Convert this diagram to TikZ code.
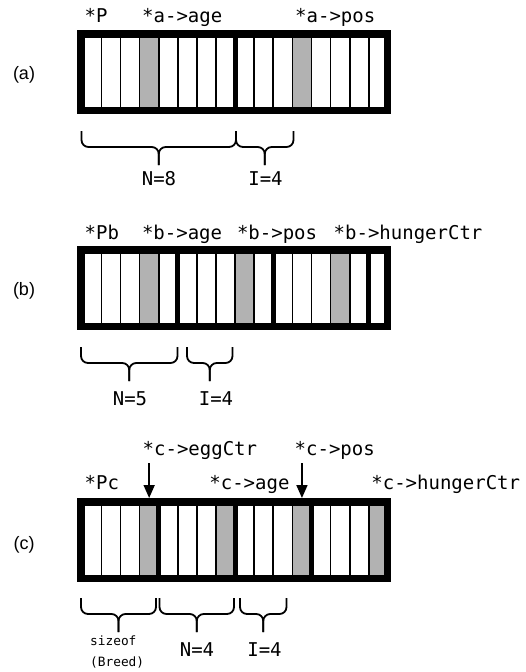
\documentclass[tikz,border=0pt]{standalone}
\usepackage{fontspec}
\setmainfont{Liberation Sans}
\newfontfamily\codefont{DejaVu Sans Mono}
\usetikzlibrary{arrows.meta}

\tikzset{
  x=1pt, y=-1pt,
  shaded/.style={fill=black!30},
  thinsep/.style={line width=1.7pt},
  thicksep/.style={line width=5pt},
  frame/.style={line width=7.5pt},
  lbl/.style={font=\codefont\fontsize{19}{21}\selectfont, anchor=base west, inner sep=0pt},
  cnt/.style={font=\codefont\fontsize{19}{21}\selectfont, anchor=base, inner sep=0pt},
  tiny/.style={font=\codefont\fontsize{12.8}{14}\selectfont, anchor=base west, inner sep=0pt},
  tag/.style={font=\fontsize{18}{20}\selectfont, inner sep=0pt},
  brace/.style={line width=1.8pt, rounded corners=7pt},
  ptr/.style={line width=1.8pt, -{Triangle[length=13pt,width=11pt]}},
}

% \membar{top}{shaded slots}{wide walls}: a frame of 16 slots
\newcommand\membar[3]{%
  \fill[white] (77,#1) rectangle (391,#1+84);
  \foreach \k in {#2}
    \fill[shaded] ({82.3+19.1*(\k-1)},#1) rectangle ({82.3+19.1*\k},#1+84);
  \foreach \k in {1,...,15}
    \draw[thinsep] ({82.3+19.1*\k},#1) -- ++(0,84);
  \foreach \k in {#3}
    \draw[thicksep] ({82.3+19.1*\k},#1) -- ++(0,84);
  \draw[frame] (80.75,#1+3.75) rectangle (387.25,#1+80.25);
}

% \curlybrace{left}{right}{top}: brace opening upwards, tip at the middle
\newcommand\curlybrace[3]{%
  \draw[brace] (#1,#3) -- (#1,#3+16) -- ({(#1+#2)/2},#3+16) -- ({(#1+#2)/2},#3+34);
  \draw[brace] (#2,#3) -- (#2,#3+16) -- ({(#1+#2)/2},#3+16) -- ({(#1+#2)/2},#3+34);
}

\begin{document}
\begin{tikzpicture}
\fill[white] (0,0) rectangle (526,672);
\useasboundingbox (0,0) rectangle (526,672);

% ---------- (a) ----------
\node[tag] (taga) at (24,75) {(a)};
\membar{30}{4,12}{8}
\node[lbl] (pa)    at (84.5,22) {*P};
\node[lbl] (agea)  at (142,22)  {*a->age};
\node[lbl] (posa)  at (295,22)  {*a->pos};
\curlybrace{81.5}{236}{131}
\curlybrace{236}{293.5}{131}
\node[cnt] (na) at (159,185) {N=8};
\node[cnt] (ia) at (265.5,185) {I=4};

% ---------- (b) ----------
\node[tag] (tagb) at (24,291) {(b)};
\membar{246}{4,9,14}{5,10,15}
\node[lbl] (pb)    at (84.5,239) {*Pb};
\node[lbl] (ageb)  at (141.8,239) {*b->age};
\node[lbl] (posb)  at (236.8,239) {*b->pos};
\node[lbl] (hunb)  at (333.5,239) {*b->hungerCtr};
\curlybrace{81}{177.5}{347}
\curlybrace{187}{232.5}{347}
\node[cnt] (nb) at (130,405) {N=5};
\node[cnt] (ib) at (216,405) {I=4};

% ---------- (c) ----------
\node[tag] (tagc) at (24,545) {(c)};
\membar{498}{4,8,12,16}{4,8,12}
\node[lbl] (pc)    at (84.5,489) {*Pc};
\node[lbl] (agec)  at (209.2,489) {*c->age};
\node[lbl] (hunc)  at (371.2,489) {*c->hungerCtr};
\node[lbl] (eggc)  at (142.5,455) {*c->eggCtr};
\node[lbl] (posc)  at (294.5,455) {*c->pos};
\coordinate (eggfrom) at (149.15,463);
\coordinate (eggto)   at (149.15,498);
\coordinate (posfrom) at (301.95,463);
\coordinate (posto)   at (301.95,498);
\draw[ptr] (eggfrom) -- (eggto);
\draw[ptr] (posfrom) -- (posto);
\curlybrace{81}{156}{598}
\curlybrace{159.5}{234}{598}
\curlybrace{240}{286.5}{598}
\node[tiny] (szc) at (90,645.5) {sizeof};
\node[tiny] (brc) at (90,666) {(Breed)};
\node[cnt] (nc) at (197,656.7) {N=4};
\node[cnt] (ic) at (264.5,656.7) {I=4};
\end{tikzpicture}
\end{document}
